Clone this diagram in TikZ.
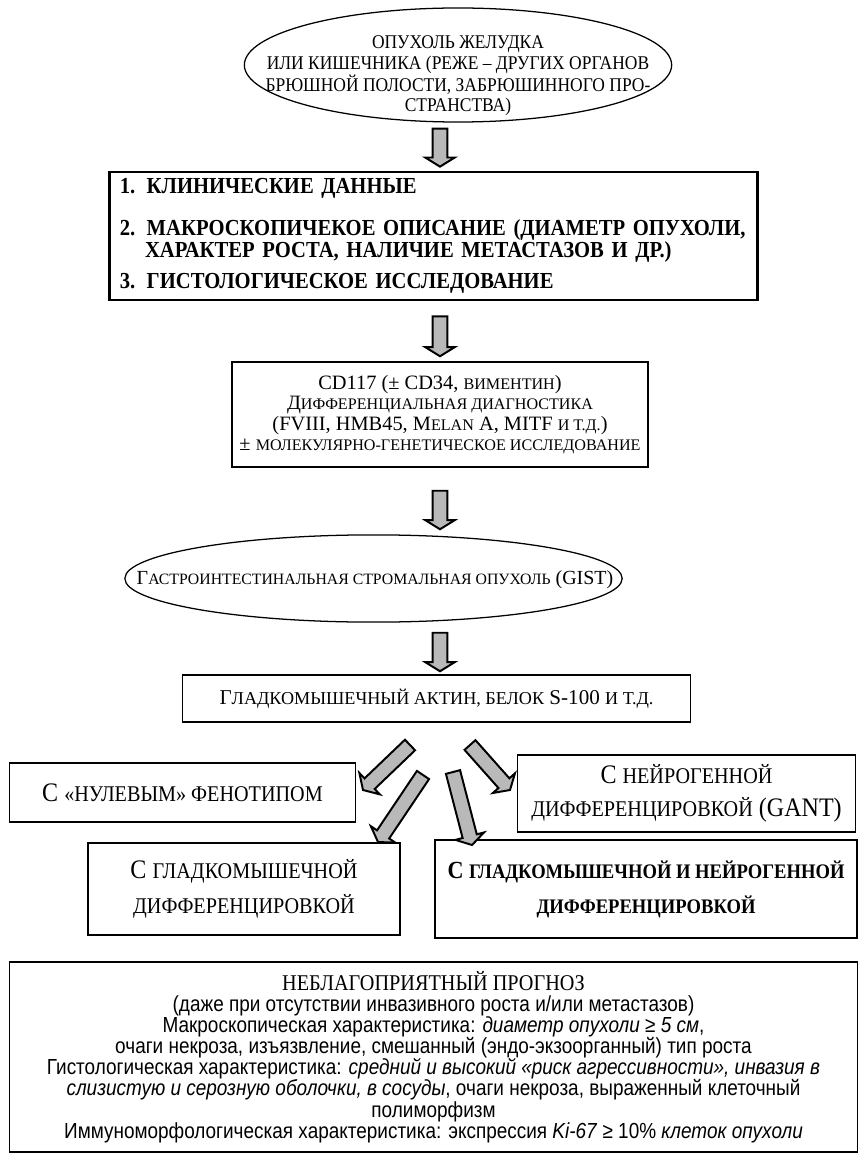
\documentclass[tikz,border=0pt]{standalone}
\usepackage{fontspec}
\setmainfont{Liberation Serif}
\newfontfamily\condserif{Liberation Serif}[FakeStretch=0.9]
\newfontfamily\condsans{Liberation Sans}[FakeStretch=0.87]
\usetikzlibrary{arrows.meta, positioning, calc, shapes.geometric}

\newcommand{\lowcaps}[1]{\scalebox{0.79}{#1}}
% fat grey arrow from #1 to #2
\newcommand{\blockarrow}[2]{%
  \coordinate (headbase) at ($(#2)!6.5pt!(#1)$);
  \draw[blockarr] ($(#1)!5.2pt!90:(#2)$) -- ($(headbase)!5.2pt!90:(#2)$)
    -- ($(headbase)!10.5pt!90:(#2)$) -- (#2) -- ($(headbase)!10.5pt!-90:(#2)$)
    -- ($(headbase)!5.2pt!-90:(#2)$) -- ($(#1)!5.2pt!-90:(#2)$) -- cycle;}

\begin{document}
\begin{tikzpicture}[
    x=0.025cm, y=-0.025cm,
    box/.style={draw, rectangle, line width=0.9pt, inner sep=0pt, align=center},
    thickbox/.style={box, line width=1.9pt},
    oval/.style={draw, ellipse, line width=0.9pt, inner sep=0pt},
    blockarr/.style={draw, line width=1.4pt, fill=gray!55, line join=miter},
    sctext/.style={font=\fontsize{14.5}{14.5}\selectfont, align=center},
    subtype/.style={box, font=\condserif\fontsize{19}{23.5}\selectfont}
  ]
  \useasboundingbox (0,0) rectangle (858,1161);

  \node[oval, minimum width=10.68cm, minimum height=2.85cm] (tumour) at (458,65) {};
  \node[align=center, font=\condserif\fontsize{13.8}{14.6}\selectfont] (tumourtext) at (458,76)
    {ОПУХОЛЬ ЖЕЛУДКА\\
     ИЛИ КИШЕЧНИКА (РЕЖЕ – ДРУГИХ ОРГАНОВ\\
     БРЮШНОЙ ПОЛОСТИ, ЗАБРЮШИННОГО ПРО-\\
     СТРАНСТВА)};

  \node[thickbox, minimum width=16.18cm, minimum height=3.2cm, text width=15.68cm,
        align=left, font=\condserif\bfseries\fontsize{16.3}{13.5}\selectfont] (clinic) at (433.5,236)
    {1. КЛИНИЧЕСКИЕ ДАННЫЕ\\[14pt]
     2. МАКРОСКОПИЧЕКОЕ ОПИСАНИЕ (ДИАМЕТР ОПУХОЛИ,\\
     \hspace*{1.1em}ХАРАКТЕР РОСТА, НАЛИЧИЕ МЕТАСТАЗОВ И ДР.)\\[7pt]
     3. ГИСТОЛОГИЧЕСКОЕ ИССЛЕДОВАНИЕ};

  \node[box, sctext, minimum width=10.4cm, minimum height=2.63cm] (ihc) at (440,414.5)
    {CD117 (± CD34, \lowcaps{ВИМЕНТИН})\\
     Д\lowcaps{ИФФЕРЕНЦИАЛЬНАЯ ДИАГНОСТИКА}\\
     (FVIII, HMB45, M\lowcaps{ELAN} A, MITF \lowcaps{И Т.Д.})\\
     ± \lowcaps{МОЛЕКУЛЯРНО-ГЕНЕТИЧЕСКОЕ ИССЛЕДОВАНИЕ}};

  \node[oval, minimum width=12.43cm, minimum height=2.18cm] (gist) at (373.5,578.5) {};
  \node[sctext, font=\fontsize{14.2}{14.5}\selectfont] (gisttext) at (375,580)
    {Г\lowcaps{АСТРОИНТЕСТИНАЛЬНАЯ СТРОМАЛЬНАЯ ОПУХОЛЬ} (GIST)};

  \node[box, font=\fontsize{15}{15}\selectfont, minimum width=12.68cm, minimum height=1.18cm] (markers) at (436.5,698.5)
    {Г\scalebox{0.86}{ЛАДКОМЫШЕЧНЫЙ АКТИН, БЕЛОК} S-100 \scalebox{0.86}{И Т.Д.}};

  \node[subtype, minimum width=8.63cm, minimum height=1.48cm] (nullph) at (182.5,792.5)
    {С \scalebox{0.84}{«НУЛЕВЫМ» ФЕНОТИПОМ}};
  \node[subtype, minimum width=8.43cm, minimum height=1.93cm] (gant) at (686.5,793.5)
    {С \scalebox{0.84}{НЕЙРОГЕННОЙ}\\ \scalebox{0.84}{ДИФФЕРЕНЦИРОВКОЙ} (GANT)};
  \node[subtype, font=\condserif\fontsize{19}{25}\selectfont,
        minimum width=7.8cm, minimum height=2.3cm] (smooth) at (244,889)
    {С \scalebox{0.84}{ГЛАДКОМЫШЕЧНОЙ}\\ \scalebox{0.84}{ДИФФЕРЕНЦИРОВКОЙ}};
  \node[subtype, thickbox, font=\condserif\bfseries\fontsize{17.5}{25}\selectfont,
        minimum width=10.55cm, minimum height=2.45cm] (mixed) at (646,889)
    {С \scalebox{0.84}{ГЛАДКОМЫШЕЧНОЙ И НЕЙРОГЕННОЙ}\\ \scalebox{0.84}{ДИФФЕРЕНЦИРОВКОЙ}};

  \node[box, minimum width=21.18cm, minimum height=4.75cm,
        font=\condsans\fontsize{15.5}{15}\selectfont] (prognosis) at (433.5,1057)
    {{\condserif\fontsize{16}{15}\selectfont НЕБЛАГОПРИЯТНЫЙ ПРОГНОЗ}\\
     (даже при отсутствии инвазивного роста и/или метастазов)\\
     Макроскопическая характеристика: \textit{диаметр опухоли ≥ 5 см},\\
     очаги некроза, изъязвление, смешанный (эндо-экзоорганный) тип роста\\
     Гистологическая характеристика: \textit{средний и высокий «риск агрессивности», инвазия в}\\
     \textit{слизистую и серозную оболочки, в сосуды}, очаги некроза, выраженный клеточный\\
     полиморфизм\\
     Иммуноморфологическая характеристика: экспрессия \textit{Ki-67} ≥ 10\% \textit{клеток опухоли}};

  \coordinate (tumourout) at ($(ihc.north |- tumour.south)+(0,6)$);
  \coordinate (clinicin) at ($(ihc.north |- clinic.north)+(0,-4)$);
  \coordinate (clinicout) at ($(ihc.north |- clinic.south)+(0,15)$);
  \coordinate (ihcin) at ($(ihc.north)+(0,-5)$);
  \coordinate (ihcout) at ($(ihc.south)+(0,23)$);
  \coordinate (gistin) at ($(ihc.south |- gist.north)+(0,-5)$);
  \coordinate (gistout) at ($(ihc.south |- gist.south)+(0,10)$);
  \coordinate (markersin) at ($(ihc.south |- markers.north)+(0,-3)$);
  \blockarrow{tumourout}{clinicin}
  \blockarrow{clinicout}{ihcin}
  \blockarrow{ihcout}{gistin}
  \blockarrow{gistout}{markersin}

  \coordinate (nullfrom) at (410,745);  \coordinate (nullto) at (363,790);
  \coordinate (gantfrom) at (470,745);  \coordinate (gantto) at (510,790);
  \coordinate (smoothfrom) at (423,775); \coordinate (smoothto) at (378,842);
  \coordinate (mixedfrom) at (453,772); \coordinate (mixedto) at (472,845);
  \blockarrow{nullfrom}{nullto}
  \blockarrow{gantfrom}{gantto}
  \blockarrow{smoothfrom}{smoothto}
  \blockarrow{mixedfrom}{mixedto}
\end{tikzpicture}
\end{document}
